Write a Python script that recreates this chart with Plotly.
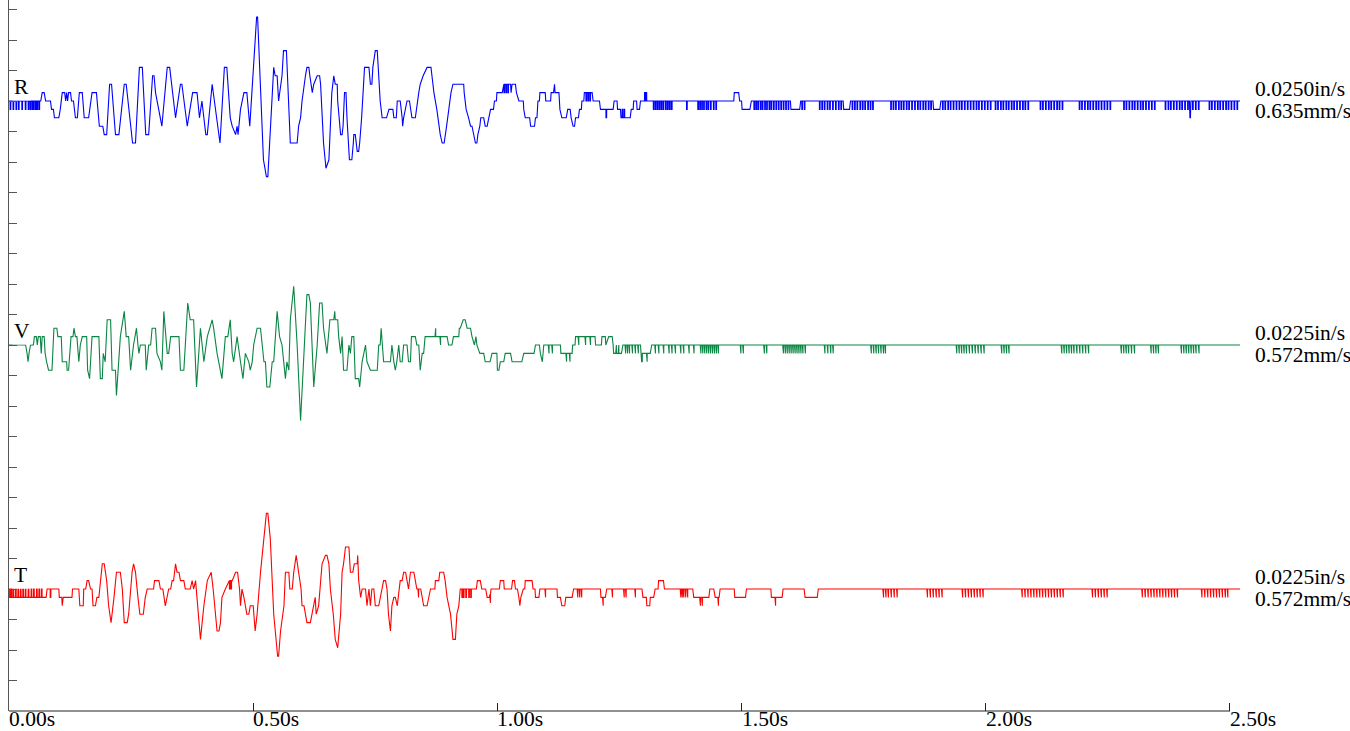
import numpy as np
import plotly.graph_objects as go

# ---------------------------------------------------------------------------
# Three-component particle-velocity record (R = radial, V = vertical,
# T = transverse).  Each waveform is a list of (time [ms], amplitude [counts])
# breakpoints; *_dips / *_blips list single-sample flickers one count below /
# above the local level.
# ---------------------------------------------------------------------------
r_wave = [(0,0),(65,0),(68,1),(72,1),(75,0),(85,0),(87,-1),(91,-1),(93,-2),(102,-2),(105,-1),(109,1),(114,1),(116,0),(118,1),(120,0),(122,1),(126,1),(128,0),(132,0),(136,-2),(140,-2),(144,1),(150,1),(154,-2),(163,-2),(170,1),(179,1),(185,-3),(192,-3),(195,-4),(200,-4),(206,2),(210,2),(218,-4),(225,-4),(236,2),(240,2),(253,-5),(259,-5),(267,4),(273,4),(280,-4),(286,-4),(294,3),(297,3),(300,1),(303,0),(313,-3),(324,4),(329,4),(341,-2),(351,2),(354,2),(365,-3),(376,1),(385,1),(390,-2),(395,0),(403,-4),(406,-4),(416,2),(432,-5),(441,4),(446,4),(453,-2),(457,-3),(464,-4),(467,-3),(469,-4),(474,-1),(481,1),(487,1),(493,-3),(507,10),(509,10),(521,-7),(524,-8),(527,-9),(530,-9),(542,4),(545,3),(549,3),(552,0),(559,3),(562,6),(568,6),(576,-5),(590,-5),(593,-3),(597,-2),(600,0),(602,1),(605,2),(607,3),(610,4),(614,4),(616,3),(621,1),(624,2),(631,3),(636,3),(638,2),(644,-5),(649,-8),(655,-7),(658,-2),(661,1),(665,3),(668,2),(672,2),(673,0),(679,-4),(682,-4),(684,-3),(687,1),(690,1),(692,-2),(697,-7),(702,-7),(705,-5),(706,-4),(709,-4),(711,-5),(713,-6),(716,-6),(718,-5),(722,-2),(725,2),(728,4),(737,4),(740,2),(743,2),(745,4),(750,6),(754,6),(755,5),(760,0),(764,-2),(773,-2),(778,-1),(786,-1),(788,-2),(793,-2),(795,0),(801,0),(805,-2),(806,-3),(808,-2),(815,0),(820,0),(825,-2),(832,-2),(836,0),(839,1),(842,2),(848,3),(856,4),(864,4),(866,3),(870,1),(876,-1),(880,-3),(883,-4),(887,-5),(891,-5),(896,-3),(900,-1),(905,1),(909,2),(931,2),(932,1),(936,-1),(941,-2),(945,-3),(948,-3),(952,-4),(955,-5),(958,-5),(960,-4),(964,-3),(966,-2),(972,-2),(975,-3),(979,-3),(982,-2),(986,-1),(992,-1),(994,0),(998,0),(999,1),(1010,1),(1012,2),(1027,2),(1028,1),(1030,2),(1037,2),(1039,1),(1044,0),(1053,0),(1054,-1),(1057,-2),(1066,-2),(1068,-3),(1076,-3),(1078,-2),(1081,-2),(1083,0),(1086,0),(1087,1),(1098,1),(1099,0),(1109,0),(1110,1),(1115,1),(1117,2),(1118,1),(1126,1),(1128,-1),(1132,-2),(1141,-2),(1144,-1),(1149,-1),(1151,-2),(1155,-3),(1158,-3),(1160,-2),(1166,-2),(1168,-1),(1172,-1),(1173,0),(1177,0),(1178,1),(1194,1),(1196,0),(1209,0),(1211,-1),(1237,-1),(1239,0),(1245,0),(1246,-1),(1252,-1),(1253,-2),(1272,-2),(1274,-1),(1278,-1),(1279,0),(1285,0),(1286,-1),(1291,-1),(1293,0),(1484,0),(1485,1),(1494,1),(1496,0),(1500,0),(1501,-1),(1517,-1),(1520,0),(1600,0),(1601,-1),(1619,-1),(1621,0),(1708,0),(1709,-1),(1721,-1),(1723,0),(1892,0),(1893,-1),(1906,-1),(1908,0),(2417,0),(2418,-2),(2419,-2),(2420,0),(2521,0)]
r_dips = [3,9,15,20,27,34,40,44,48,51,55,58,62,1014,1018,1022,1182,1186,1190,1223,1320,1324,1328,1332,1336,1340,1345,1349,1353,1357,1388,1411,1415,1419,1423,1428,1432,1437,1443,1448,1526,1530,1534,1539,1543,1548,1552,1557,1561,1566,1571,1576,1581,1586,1591,1596,1624,1629,1660,1665,1670,1676,1681,1687,1693,1699,1704,1727,1732,1737,1743,1748,1753,1759,1764,1769,1806,1811,1816,1822,1827,1832,1838,1843,1849,1855,1861,1866,1872,1877,1883,1888,1912,1917,1923,1928,1934,1940,1946,1951,1957,1963,1969,1975,1981,1986,1992,1998,2004,2010,2020,2025,2031,2036,2042,2047,2053,2058,2064,2070,2076,2081,2087,2112,2117,2123,2129,2134,2140,2146,2151,2157,2192,2197,2203,2209,2214,2220,2226,2231,2237,2243,2249,2255,2283,2288,2294,2300,2305,2311,2317,2322,2328,2334,2340,2346,2368,2374,2379,2385,2391,2397,2402,2408,2414,2424,2430,2436,2458,2463,2469,2475,2480,2486,2492,2497,2503,2509,2515]
r_blips = [1256,1260,1302,1305]

v_wave = [(0,0),(34,0),(37,-1),(39,-2),(41,-1),(44,0),(50,0),(52,1),(56,1),(58,0),(60,1),(64,1),(66,-1),(68,1),(72,1),(74,-1),(77,-2),(81,-3),(88,-3),(92,2),(98,2),(100,1),(107,1),(109,-2),(118,-2),(119,-3),(122,-3),(127,1),(131,1),(133,2),(136,1),(139,1),(143,-2),(146,0),(150,1),(159,1),(161,-3),(165,-4),(170,1),(184,1),(187,-4),(191,-4),(193,-1),(197,-2),(201,3),(208,3),(211,-3),(218,-3),(220,-6),(228,1),(236,4),(240,1),(245,1),(249,-3),(255,0),(261,2),(264,0),(266,-1),(269,0),(279,0),(281,-3),(286,0),(290,0),(293,2),(300,2),(303,-1),(310,-2),(313,-3),(317,4),(324,-1),(327,-1),(331,1),(348,1),(351,-3),(358,-3),(361,0),(366,5),(371,3),(378,3),(384,-5),(392,2),(399,-2),(406,1),(416,3),(419,2),(426,-1),(433,-3),(436,-4),(443,1),(448,1),(453,3),(457,-1),(460,-2),(467,1),(474,-2),(479,-4),(484,-1),(491,-2),(494,-3),(498,-2),(501,0),(508,2),(515,2),(518,0),(522,-2),(525,-2),(528,-5),(534,-5),(539,-2),(542,-2),(545,1),(549,4),(554,1),(559,0),(566,-4),(569,-2),(573,-3),(576,3),(583,7),(590,0),(597,-9),(604,0),(610,6),(614,6),(617,5),(624,-5),(631,0),(636,5),(641,5),(644,2),(651,-1),(657,3),(665,3),(667,4),(668,3),(673,3),(675,1),(679,-1),(682,1),(685,-3),(692,-3),(696,0),(699,-1),(702,1),(706,1),(709,-4),(716,-4),(718,-5),(723,-2),(730,0),(733,-2),(740,-3),(754,-3),(757,0),(760,0),(762,2),(767,-2),(781,-2),(784,0),(788,-2),(791,-3),(794,-2),(798,0),(801,-2),(805,-2),(808,0),(815,0),(818,-2),(822,-2),(824,1),(832,1),(835,0),(839,0),(842,-3),(846,-1),(849,-1),(852,1),(897,1),(900,0),(907,0),(910,1),(921,1),(922,2),(924,2),(930,3),(934,3),(938,2),(945,2),(948,1),(953,0),(956,1),(958,0),(964,-1),(972,-1),(975,-2),(985,-2),(989,-1),(999,-1),(1000,-3),(1003,-3),(1006,-2),(1013,-2),(1016,-1),(1027,-1),(1030,-2),(1050,-2),(1054,-1),(1075,-1),(1078,0),(1086,0),(1088,-1),(1092,-2),(1094,-1),(1095,0),(1129,0),(1130,-1),(1153,-1),(1154,0),(1159,0),(1160,1),(1200,1),(1201,0),(1213,0),(1214,1),(1221,1),(1222,0),(1228,1),(1235,1),(1237,0),(1238,-1),(1254,-1),(1257,0),(1293,0),(1294,-1),(1313,-1),(1316,0),(2521,0)]
v_dips = [883,1105,1112,1141,1148,1166,1180,1190,1262,1266,1270,1276,1282,1288,1296,1306,1323,1330,1340,1351,1357,1364,1375,1381,1392,1402,1416,1420,1424,1428,1432,1436,1440,1444,1448,1452,1498,1503,1546,1551,1585,1589,1593,1597,1601,1605,1609,1613,1617,1621,1625,1630,1670,1676,1682,1687,1765,1770,1775,1780,1785,1790,1794,1940,1945,1950,1955,1960,1966,1972,1978,1984,1990,1996,2032,2037,2042,2047,2155,2160,2165,2170,2175,2180,2186,2192,2198,2204,2210,2277,2282,2287,2292,2298,2304,2338,2343,2348,2353,2400,2405,2410,2415,2420,2425,2430,2436]
v_blips = [873,1243,1248]

t_wave = [(0,-1),(76,-1),(78,0),(102,0),(103,-1),(108,-1),(109,-2),(111,-1),(129,-1),(130,0),(143,0),(145,-2),(152,-2),(153,0),(157,0),(160,1),(163,1),(167,0),(170,0),(172,-2),(177,-2),(180,-1),(184,-1),(187,1),(191,3),(195,3),(200,1),(204,-2),(209,-4),(215,-1),(220,2),(228,2),(232,0),(236,-4),(242,-4),(245,-3),(252,2),(255,3),(259,2),(264,-1),(268,-3),(275,-3),(279,-1),(283,0),(296,0),(298,1),(307,1),(310,0),(315,0),(320,-2),(327,0),(331,0),(334,1),(337,1),(341,3),(344,2),(348,2),(351,1),(358,1),(361,0),(371,0),(375,1),(378,0),(382,1),(385,-1),(392,-6),(399,-2),(406,1),(414,2),(418,0),(426,-5),(430,-5),(433,-4),(436,-1),(443,0),(450,1),(457,1),(464,2),(468,2),(472,0),(474,-2),(477,0),(481,-1),(487,-3),(491,-3),(494,-2),(500,-2),(504,-5),(508,-3),(515,2),(522,6),(527,9),(530,9),(535,6),(542,-3),(550,-8),(552,-8),(556,-5),(563,-2),(566,2),(573,2),(575,0),(580,0),(583,2),(588,4),(593,2),(598,0),(600,-2),(604,-2),(607,-3),(610,-4),(617,-4),(620,-3),(624,-2),(627,-1),(629,-3),(634,-2),(641,3),(648,4),(651,4),(655,3),(658,0),(664,-3),(668,-6),(673,-7),(679,-3),(682,2),(685,3),(689,5),(696,5),(699,2),(704,2),(707,3),(713,3),(714,4),(716,1),(720,-1),(723,0),(730,0),(733,-2),(737,0),(740,-2),(743,0),(747,0),(750,-2),(757,-2),(760,-1),(767,1),(771,1),(774,0),(777,-3),(781,-5),(784,-2),(788,-1),(791,-1),(795,-2),(801,1),(805,1),(808,2),(812,2),(815,1),(818,0),(822,2),(829,2),(832,1),(835,0),(843,0),(846,-1),(849,-2),(856,-2),(859,-1),(863,0),(872,0),(873,1),(880,1),(882,2),(890,2),(893,1),(897,-1),(904,-3),(909,-6),(914,-6),(917,-3),(921,-2),(924,0),(957,0),(959,1),(965,1),(968,0),(976,0),(979,-1),(984,-1),(987,0),(1004,0),(1006,1),(1013,1),(1014,0),(1029,0),(1031,1),(1035,1),(1037,0),(1041,0),(1044,-1),(1046,-2),(1048,-1),(1053,0),(1056,0),(1057,1),(1071,1),(1073,0),(1077,0),(1078,-1),(1085,-1),(1087,0),(1122,0),(1123,-1),(1129,-1),(1132,-2),(1138,-2),(1140,-1),(1153,-1),(1156,0),(1211,0),(1212,-1),(1221,-1),(1224,0),(1296,0),(1298,-1),(1305,-1),(1306,-2),(1312,-2),(1313,-1),(1320,-1),(1323,0),(1329,0),(1330,1),(1340,1),(1342,0),(1400,0),(1402,-1),(1433,-1),(1435,0),(1443,0),(1446,-1),(1454,-1),(1456,0),(1485,0),(1486,-1),(1508,-1),(1510,0),(1560,0),(1561,-1),(1583,-1),(1585,0),(1628,0),(1630,-1),(1655,-1),(1657,0),(2521,0)]
t_dips = [85,452,455,838,928,931,936,942,946,985,1098,1164,1168,1172,1216,1235,1259,1263,1282,1375,1378,1381,1385,1389,1415,1419,1452,1569,1790,1795,1800,1806,1812,1818,1880,1886,1892,1898,1904,1910,1952,1958,1964,1970,1976,1982,1988,1994,2074,2080,2086,2092,2098,2104,2110,2116,2122,2128,2134,2140,2146,2152,2158,2218,2224,2230,2236,2242,2248,2320,2326,2332,2338,2344,2350,2356,2362,2368,2374,2380,2386,2392,2442,2448,2454,2460,2466,2472,2478,2484,2490,2495]
t_blips = [2,5,9,14,19,24,29,34,40,46,51,57,62,67]

channels = ["R", "V", "T"]
scale_in = ["0.0250in/s", "0.0225in/s", "0.0225in/s"]
scale_mm = ["0.635mm/s", "0.572mm/s", "0.572mm/s"]
x_ticks = [0.0, 0.5, 1.0, 1.5, 2.0, 2.5]
x_tick_text = ["0.00s", "0.50s", "1.00s", "1.50s", "2.00s", "2.50s"]

# ---- display settings ----
colors = ["#0000ff", "#0a8543", "#ff0000"]
baselines = [20, 12, 4]          # channel zero, in axis-division units
COUNT = 0.2754                    # one digitizer count, in division units
N_DIV = 711 / 30.5                # visible divisions on the y axis
FONT = "Liberation Serif"
FSIZE = 21.5


def build(wave, dips, blips):
    t = np.array([p[0] for p in wave], float)
    v = np.array([p[1] for p in wave], float)
    pts = list(zip(t, v))
    for times, step in ((dips, -1), (blips, 1)):
        for ft in times:
            b = float(np.interp(ft, t, v))
            pts += [(ft - 0.75, b), (ft - 0.65, b + step), (ft + 0.65, b + step), (ft + 0.75, b)]
    pts.sort(key=lambda p: p[0])
    arr = np.array(pts)
    return arr[:, 0] / 1000.0, arr[:, 1]


data = [(r_wave, r_dips, r_blips), (v_wave, v_dips, v_blips), (t_wave, t_dips, t_blips)]

fig = go.Figure()
for i, (w, d, b) in enumerate(data):
    xs, cs = build(w, d, b)
    fig.add_trace(go.Scatter(
        x=xs, y=baselines[i] + cs * COUNT, mode="lines",
        line=dict(color=colors[i], width=1.1), hoverinfo="skip", showlegend=False))

annotations = []
for i, name in enumerate(channels):
    annotations.append(dict(
        x=0, y=baselines[i], xref="x", yref="y", text=name, showarrow=False,
        xanchor="left", yanchor="bottom", xshift=3, yshift=0,
        bgcolor="rgba(255,255,255,0.9)", borderpad=1,
        font=dict(family=FONT, size=FSIZE, color="black")))
    annotations.append(dict(
        x=1, y=baselines[i], xref="paper", yref="y", text=scale_in[i], showarrow=False,
        xanchor="left", yanchor="middle", xshift=13, yshift=12,
        font=dict(family=FONT, size=FSIZE, color="black")))
    annotations.append(dict(
        x=1, y=baselines[i], xref="paper", yref="y", text=scale_mm[i], showarrow=False,
        xanchor="left", yanchor="middle", xshift=13, yshift=-10,
        font=dict(family=FONT, size=FSIZE, color="black")))
for xv, lab in zip(x_ticks, x_tick_text):
    annotations.append(dict(
        x=xv, y=0, xref="x", yref="paper", text=lab, showarrow=False,
        xanchor="left", yanchor="top", xshift=-2, yshift=6,
        font=dict(family=FONT, size=FSIZE, color="black")))

fig.update_layout(
    width=1350, height=731,
    margin=dict(l=9, r=110, t=0, b=20),
    plot_bgcolor="white", paper_bgcolor="white",
    xaxis=dict(range=[0, 2.5205], showgrid=False, zeroline=False, showline=False,
               tickvals=x_ticks, ticks="inside", ticklen=8, tickcolor="#222",
               showticklabels=False),
    yaxis=dict(range=[0, N_DIV], showgrid=False, zeroline=False, showline=True,
               linecolor="#555", linewidth=1, tickvals=list(range(1, 24)),
               ticks="inside", ticklen=8, tickcolor="#555", showticklabels=False),
    shapes=[dict(type="line", xref="x", yref="paper", x0=0, x1=2.5, y0=0, y1=0,
                 line=dict(color="#222", width=1))],
    annotations=annotations,
)

fig.write_html("out.html")
